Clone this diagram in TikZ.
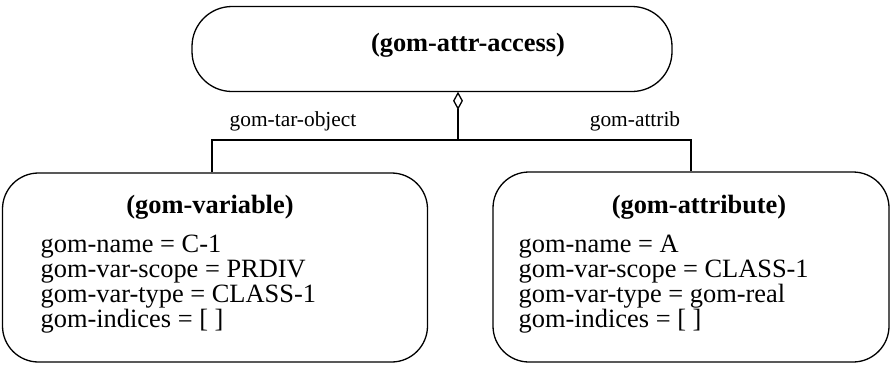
\documentclass[tikz,border=0pt]{standalone}
\usepackage{fontspec}
\setmainfont{Liberation Serif}
\usetikzlibrary{arrows.meta,positioning,shapes.geometric}

\begin{document}
\begin{tikzpicture}[x=0.5pt,y=-0.5pt,line width=0.65pt]
  \tikzstyle{box}=[draw,rounded corners=18pt,inner sep=0pt]
  \tikzstyle{head}=[font=\fontsize{13.2}{12.5}\selectfont\bfseries]
  \tikzstyle{attrs}=[align=left,anchor=west,inner sep=0pt,font=\fontsize{13.2}{12.5}\selectfont]
  \tikzstyle{role}=[font=\fontsize{10.7}{12}\selectfont]
  \useasboundingbox (0,0) rectangle (892,370);
  % top object
  \node[box,rounded corners=20pt,minimum width=240pt,minimum height=42.5pt] (access) at (432,49) {};
  \node[head] (accesstitle) at (468,45) {(gom-attr-access)};
  \node[diamond,draw,inner sep=0pt,minimum width=4.5pt,minimum height=8pt,anchor=north] (agg) at (access.south -| 458,0) {};
  % the two parts
  \node[box,minimum width=212.5pt,minimum height=94.5pt] (var) at (215,267.5) {};
  \node[head] (vartitle) at (210,207) {(gom-variable)};
  \node[attrs] (varattrs) at (40,284) {gom-name = C-1\\gom-var-scope = PRDIV\\gom-var-type = CLASS-1\\gom-indices = [ ]};
  \node[box,minimum width=198pt,minimum height=95pt] (attr) at (691,267) {};
  \node[head] (attrtitle) at (699,207) {(gom-attribute)};
  \node[attrs] (attrattrs) at (518,284) {gom-name = A\\gom-var-scope = CLASS-1\\gom-var-type = gom-real\\gom-indices = [ ]};
  % connectors
  \coordinate (fork) at (458,140);
  \draw (agg.south) -- (fork);
  \draw (var.north -| 212,0) |- (fork) -| (attr.north);
  \node[role] (tarlabel) at (293,121) {gom-tar-object};
  \node[role] (attriblabel) at (635,121) {gom-attrib};
\end{tikzpicture}
\end{document}
